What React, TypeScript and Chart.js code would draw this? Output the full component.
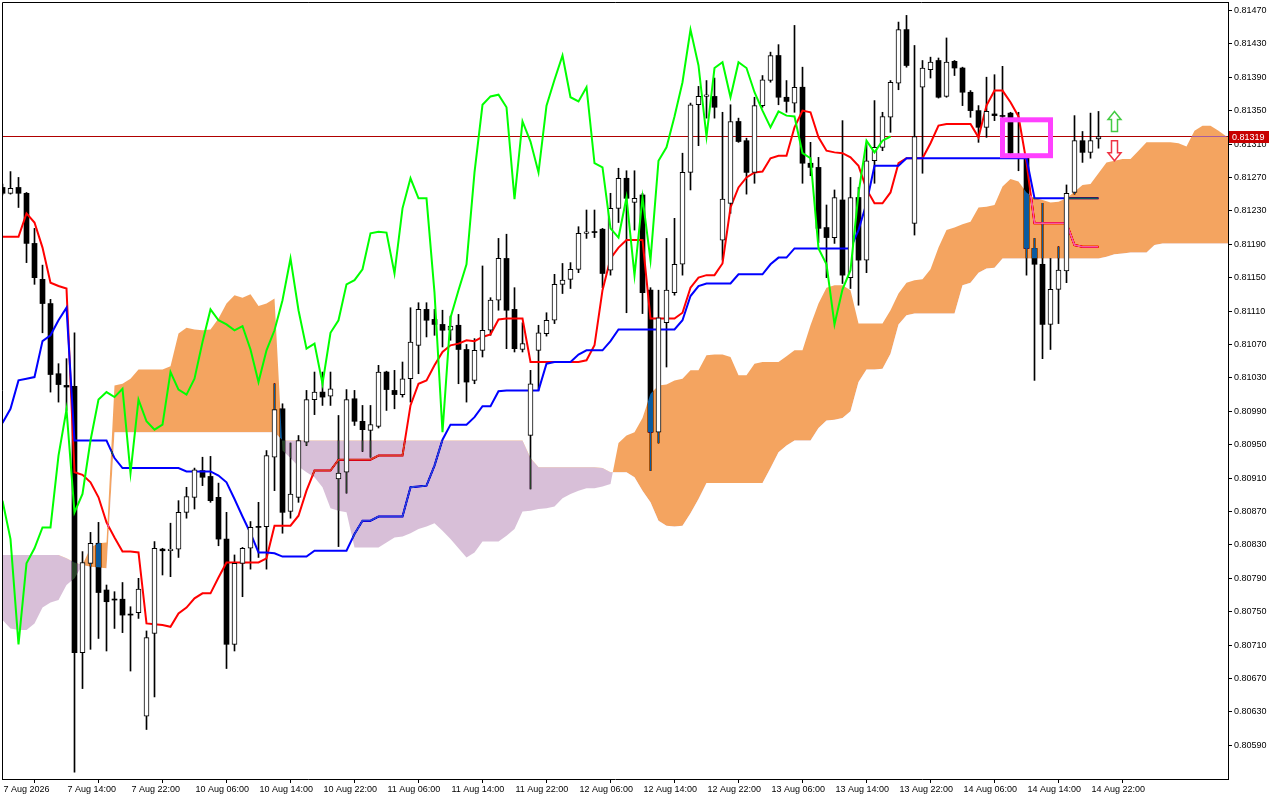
import { useEffect, useRef } from 'react'
import { Chart, registerables } from 'chart.js'

// Lets a dataset carry a canvas blend mode. The cloud is painted in "difference"
// with inverted colours: SandyBrown / Thistle on white, blue / dark where it
// covers black candles, pink where it covers the red line (as the MT4 shot does).
const blendPlugin = {
  id: 'blendMode',
  beforeDraw(chart) {
    const { ctx, width, height } = chart
    ctx.save()
    ctx.fillStyle = '#ffffff'
    ctx.fillRect(0, 0, width, height)
    ctx.restore()
  },
  beforeDatasetDraw(chart, args) {
    const ds = chart.data.datasets[args.index]
    if (ds && ds.blend) {
      chart.ctx.save()
      chart.ctx.globalCompositeOperation = ds.blend
    }
  },
  afterDatasetDraw(chart, args) {
    const ds = chart.data.datasets[args.index]
    if (ds && ds.blend) chart.ctx.restore()
  },
}

// registered ahead of the filler so the blend is set when the cloud fill is drawn
Chart.register(blendPlugin, ...registerables)

// H1 bars, 7 Aug 06:00 .. 14 Aug 23:00
const opens = [
  0.81258, 0.81251, 0.81258, 0.81251, 0.81191, 0.81148, 0.81119, 0.81035, 0.81021, 0.81020,
  0.80701, 0.80808, 0.80832, 0.80776, 0.80765, 0.80765, 0.80747, 0.80749, 0.80625, 0.80724,
  0.80825, 0.80823, 0.80825, 0.80869, 0.80887, 0.80919, 0.80912, 0.80887, 0.80837, 0.80711,
  0.80808, 0.80826, 0.80852, 0.80852, 0.80935, 0.80993, 0.80870, 0.80887, 0.80953, 0.81004,
  0.81013, 0.81008, 0.80909, 0.80917, 0.81005, 0.80978, 0.80967, 0.80972, 0.81037, 0.81015,
  0.81010, 0.81029, 0.81069, 0.81112, 0.81100, 0.81094, 0.81087, 0.81093, 0.81064, 0.81027,
  0.81063, 0.81087, 0.81123, 0.81173, 0.81112, 0.81064, 0.80961, 0.81063, 0.81083, 0.81099,
  0.81142, 0.81148, 0.81160, 0.81203, 0.81205, 0.81208, 0.81159, 0.81233, 0.81269, 0.81240,
  0.81249, 0.81135, 0.80965, 0.81096, 0.81132, 0.81166, 0.81276, 0.81357, 0.81367, 0.81367,
  0.81195, 0.81239, 0.81337, 0.81314, 0.81276, 0.81356, 0.81386, 0.81416, 0.81366, 0.81359,
  0.81378, 0.81287, 0.81282, 0.81210, 0.81198, 0.81243, 0.81150, 0.81246, 0.81171, 0.81290,
  0.81306, 0.81342, 0.81383, 0.81447, 0.81215, 0.81378, 0.81399, 0.81410, 0.81367, 0.81409,
  0.81401, 0.81372, 0.81350, 0.81330, 0.81346, 0.81344, 0.81347, 0.81294, 0.81293, 0.81185,
  0.81166, 0.81094, 0.81136, 0.81158, 0.81252, 0.81314, 0.81300, 0.81316,
]
const highs = [
  0.81262, 0.81277, 0.81270, 0.81252, 0.81209, 0.81165, 0.81124, 0.81047, 0.81053, 0.81084,
  0.80822, 0.80845, 0.80857, 0.80782, 0.80774, 0.80785, 0.80756, 0.80790, 0.80727, 0.80834,
  0.80826, 0.80856, 0.80883, 0.80899, 0.80922, 0.80935, 0.80936, 0.80904, 0.80869, 0.80818,
  0.80827, 0.80858, 0.80881, 0.80943, 0.81023, 0.80999, 0.80952, 0.80961, 0.81015, 0.81037,
  0.81037, 0.81037, 0.80985, 0.81016, 0.81015, 0.80997, 0.80997, 0.81045, 0.81038, 0.81039,
  0.81049, 0.81114, 0.81120, 0.81120, 0.81112, 0.81111, 0.81104, 0.81106, 0.81070, 0.81077,
  0.81164, 0.81126, 0.81197, 0.81202, 0.81138, 0.81096, 0.81039, 0.81093, 0.81108, 0.81154,
  0.81167, 0.81168, 0.81211, 0.81231, 0.81231, 0.81209, 0.81251, 0.81281, 0.81278, 0.81278,
  0.81251, 0.81138, 0.81135, 0.81197, 0.81221, 0.81299, 0.81359, 0.81379, 0.81386, 0.81389,
  0.81348, 0.81357, 0.81341, 0.81317, 0.81366, 0.81392, 0.81420, 0.81429, 0.81386, 0.81452,
  0.81402, 0.81312, 0.81294, 0.81237, 0.81255, 0.81338, 0.81270, 0.81258, 0.81311, 0.81362,
  0.81348, 0.81386, 0.81456, 0.81464, 0.81428, 0.81410, 0.81414, 0.81413, 0.81437, 0.81410,
  0.81402, 0.81374, 0.81356, 0.81390, 0.81393, 0.81403, 0.81348, 0.81348, 0.81296, 0.81197,
  0.81239, 0.81173, 0.81187, 0.81261, 0.81344, 0.81325, 0.81347, 0.81349,
]
const lows = [
  0.81249, 0.81250, 0.81234, 0.81168, 0.81142, 0.81084, 0.81013, 0.81001, 0.80991, 0.80558,
  0.80658, 0.80705, 0.80718, 0.80703, 0.80730, 0.80725, 0.80679, 0.80742, 0.80609, 0.80648,
  0.80794, 0.80792, 0.80815, 0.80862, 0.80873, 0.80901, 0.80881, 0.80829, 0.80682, 0.80703,
  0.80768, 0.80801, 0.80815, 0.80801, 0.80895, 0.80844, 0.80862, 0.80881, 0.80949, 0.80986,
  0.80997, 0.80997, 0.80828, 0.80892, 0.80973, 0.80942, 0.80935, 0.80970, 0.80991, 0.80993,
  0.81007, 0.81001, 0.81035, 0.81079, 0.81081, 0.81067, 0.81075, 0.81023, 0.81001, 0.81023,
  0.81055, 0.81081, 0.81111, 0.81065, 0.81061, 0.81061, 0.80897, 0.81015, 0.81080, 0.81095,
  0.81131, 0.81137, 0.81156, 0.81197, 0.81198, 0.81138, 0.81153, 0.81216, 0.81108, 0.81207,
  0.81107, 0.80919, 0.80952, 0.81043, 0.81129, 0.81153, 0.81255, 0.81308, 0.81341, 0.81341,
  0.81171, 0.81227, 0.81312, 0.81250, 0.81263, 0.81354, 0.81384, 0.81357, 0.81348, 0.81348,
  0.81263, 0.81272, 0.81192, 0.81150, 0.81191, 0.81143, 0.81137, 0.81117, 0.81156, 0.81263,
  0.81302, 0.81324, 0.81375, 0.81402, 0.81201, 0.81275, 0.81389, 0.81365, 0.81366, 0.81392,
  0.81356, 0.81342, 0.81312, 0.81318, 0.81338, 0.81332, 0.81293, 0.81278, 0.81153, 0.81027,
  0.81053, 0.81064, 0.81095, 0.81144, 0.81250, 0.81288, 0.81293, 0.81305,
]
const closes = [
  0.81251, 0.81257, 0.81251, 0.81191, 0.81150, 0.81119, 0.81034, 0.81022, 0.81019, 0.80701,
  0.80809, 0.80832, 0.80773, 0.80762, 0.80764, 0.80746, 0.80746, 0.80777, 0.80719, 0.80826,
  0.80823, 0.80825, 0.80869, 0.80888, 0.80920, 0.80911, 0.80883, 0.80837, 0.80711, 0.80808,
  0.80826, 0.80851, 0.80851, 0.80937, 0.80992, 0.80869, 0.80891, 0.80955, 0.81004, 0.81013,
  0.81007, 0.81017, 0.80916, 0.81004, 0.80978, 0.80968, 0.80974, 0.81037, 0.81016, 0.81010,
  0.81029, 0.81073, 0.81112, 0.81099, 0.81094, 0.81087, 0.81092, 0.81064, 0.81025, 0.81063,
  0.81087, 0.81123, 0.81173, 0.81111, 0.81065, 0.81071, 0.81023, 0.81084, 0.81099, 0.81142,
  0.81147, 0.81160, 0.81203, 0.81205, 0.81204, 0.81155, 0.81233, 0.81269, 0.81245, 0.81245,
  0.81132, 0.80965, 0.81102, 0.81135, 0.81166, 0.81276, 0.81357, 0.81367, 0.81369, 0.81354,
  0.81244, 0.81337, 0.81313, 0.81276, 0.81356, 0.81387, 0.81416, 0.81366, 0.81361, 0.81378,
  0.81287, 0.81282, 0.81209, 0.81198, 0.81246, 0.81153, 0.81246, 0.81171, 0.81290, 0.81306,
  0.81343, 0.81384, 0.81447, 0.81404, 0.81319, 0.81401, 0.81408, 0.81366, 0.81408, 0.81401,
  0.81372, 0.81350, 0.81330, 0.81349, 0.81344, 0.81343, 0.81299, 0.81293, 0.81185, 0.81166,
  0.81094, 0.81136, 0.81159, 0.81251, 0.81314, 0.81300, 0.81314, 0.81319,
]

// Ichimoku lines
const tenkan = [
  0.81199, 0.81199, 0.81199, 0.81227, 0.81216, 0.81186, 0.81144, 0.81140, 0.81137, 0.80917,
  0.80914, 0.80905, 0.80887, 0.80857, 0.80839, 0.80822, 0.80822, 0.80821, 0.80736, 0.80735,
  0.80734, 0.80732, 0.80748, 0.80755, 0.80766, 0.80772, 0.80772, 0.80791, 0.80809, 0.80809,
  0.80809, 0.80809, 0.80809, 0.80814, 0.80853, 0.80853, 0.80853, 0.80865, 0.80895, 0.80919,
  0.80919, 0.80919, 0.80932, 0.80932, 0.80932, 0.80932, 0.80932, 0.80937, 0.80937, 0.80937,
  0.80937, 0.80997, 0.81023, 0.81027, 0.81045, 0.81061, 0.81069, 0.81071, 0.81075, 0.81074,
  0.81079, 0.81082, 0.81100, 0.81101, 0.81101, 0.81101, 0.81049, 0.81049, 0.81049, 0.81049,
  0.81049, 0.81049, 0.81049, 0.81051, 0.81069, 0.81135, 0.81173, 0.81186, 0.81195, 0.81195,
  0.81195, 0.81101, 0.81101, 0.81101, 0.81101, 0.81108, 0.81138, 0.81150, 0.81153, 0.81153,
  0.81167, 0.81234, 0.81258, 0.81270, 0.81276, 0.81277, 0.81293, 0.81296, 0.81296, 0.81330,
  0.81350, 0.81348, 0.81318, 0.81302, 0.81300, 0.81299, 0.81294, 0.81284, 0.81256, 0.81239,
  0.81239, 0.81252, 0.81287, 0.81293, 0.81293, 0.81293, 0.81311, 0.81332, 0.81334, 0.81334,
  0.81334, 0.81334, 0.81318, 0.81356, 0.81374, 0.81374, 0.81360, 0.81343, 0.81288, 0.81215,
  0.81215, 0.81215, 0.81215, 0.81215, 0.81189, 0.81187, 0.81187, 0.81187,
]
const kijun = [
  0.80976, 0.80993, 0.81027, 0.81029, 0.81031, 0.81074, 0.81081, 0.81099, 0.81114, 0.80955,
  0.80955, 0.80955, 0.80955, 0.80955, 0.80934, 0.80922, 0.80922, 0.80922, 0.80922, 0.80922,
  0.80922, 0.80922, 0.80922, 0.80918, 0.80918, 0.80918, 0.80918, 0.80913, 0.80905, 0.80885,
  0.80864, 0.80844, 0.80821, 0.80821, 0.80820, 0.80816, 0.80816, 0.80816, 0.80816, 0.80823,
  0.80823, 0.80823, 0.80823, 0.80823, 0.80843, 0.80859, 0.80859, 0.80864, 0.80864, 0.80864,
  0.80864, 0.80899, 0.80900, 0.80901, 0.80925, 0.80956, 0.80974, 0.80974, 0.80974, 0.80983,
  0.80996, 0.80996, 0.81014, 0.81015, 0.81015, 0.81015, 0.81015, 0.81015, 0.81047, 0.81049,
  0.81049, 0.81049, 0.81058, 0.81063, 0.81063, 0.81063, 0.81074, 0.81088, 0.81088, 0.81088,
  0.81088, 0.81088, 0.81088, 0.81088, 0.81088, 0.81099, 0.81128, 0.81140, 0.81143, 0.81143,
  0.81143, 0.81143, 0.81154, 0.81154, 0.81154, 0.81154, 0.81166, 0.81174, 0.81174, 0.81185,
  0.81185, 0.81185, 0.81185, 0.81185, 0.81185, 0.81185, 0.81185, 0.81207, 0.81239, 0.81284,
  0.81284, 0.81284, 0.81284, 0.81293, 0.81293, 0.81293, 0.81293, 0.81293, 0.81293, 0.81293,
  0.81293, 0.81293, 0.81293, 0.81293, 0.81293, 0.81293, 0.81293, 0.81293, 0.81293, 0.81245,
  0.81245, 0.81245, 0.81245, 0.81245, 0.81245, 0.81245, 0.81245, 0.81245,
]
// senkou spans, already shifted 26 bars forward (bar 0 .. 154)
const spanA = [
  0.80740, 0.80730, 0.80728, 0.80728, 0.80736, 0.80755, 0.80761, 0.80764, 0.80782, 0.80790,
  0.80806, 0.80827, 0.80832, 0.80833, 0.81021, 0.81023, 0.81029, 0.81040, 0.81040, 0.81040,
  0.81040, 0.81044, 0.81083, 0.81090, 0.81088, 0.81087, 0.81088, 0.81101, 0.81119, 0.81129,
  0.81126, 0.81130, 0.81116, 0.81119, 0.81125, 0.80943, 0.80934, 0.80924, 0.80917, 0.80911,
  0.80899, 0.80874, 0.80871, 0.80869, 0.80827, 0.80827, 0.80827, 0.80827, 0.80833, 0.80839,
  0.80840, 0.80844, 0.80849, 0.80852, 0.80856, 0.80847, 0.80837, 0.80826, 0.80815, 0.80821,
  0.80834, 0.80834, 0.80834, 0.80841, 0.80849, 0.80870, 0.80871, 0.80873, 0.80874, 0.80876,
  0.80886, 0.80891, 0.80895, 0.80898, 0.80898, 0.80900, 0.80903, 0.80952, 0.80961, 0.80965,
  0.80982, 0.81011, 0.81021, 0.81022, 0.81027, 0.81029, 0.81039, 0.81039, 0.81057, 0.81058,
  0.81058, 0.81055, 0.81033, 0.81033, 0.81047, 0.81049, 0.81049, 0.81049, 0.81056, 0.81063,
  0.81063, 0.81093, 0.81119, 0.81138, 0.81141, 0.81141, 0.81135, 0.81095, 0.81095, 0.81095,
  0.81095, 0.81111, 0.81131, 0.81144, 0.81147, 0.81148, 0.81160, 0.81186, 0.81207, 0.81210,
  0.81214, 0.81217, 0.81234, 0.81235, 0.81237, 0.81259, 0.81268, 0.81265, 0.81252, 0.81245,
  0.81243, 0.81240, 0.81241, 0.81245, 0.81253, 0.81261, 0.81262, 0.81275, 0.81288, 0.81290,
  0.81292, 0.81292, 0.81302, 0.81312, 0.81312, 0.81312, 0.81312, 0.81311, 0.81307, 0.81326,
  0.81332, 0.81332, 0.81326, 0.81319, 0.81314,
]
const spanB = [
  0.80818, 0.80818, 0.80818, 0.80818, 0.80818, 0.80818, 0.80818, 0.80818, 0.80814, 0.80809,
  0.80806, 0.80804, 0.80803, 0.80802, 0.80965, 0.80965, 0.80965, 0.80965, 0.80965, 0.80965,
  0.80965, 0.80965, 0.80965, 0.80965, 0.80965, 0.80965, 0.80965, 0.80965, 0.80965, 0.80965,
  0.80965, 0.80965, 0.80965, 0.80965, 0.80965, 0.80955, 0.80955, 0.80955, 0.80955, 0.80955,
  0.80955, 0.80955, 0.80955, 0.80955, 0.80955, 0.80955, 0.80955, 0.80955, 0.80955, 0.80955,
  0.80955, 0.80955, 0.80955, 0.80955, 0.80955, 0.80955, 0.80955, 0.80955, 0.80955, 0.80955,
  0.80955, 0.80955, 0.80955, 0.80955, 0.80955, 0.80955, 0.80934, 0.80923, 0.80923, 0.80923,
  0.80923, 0.80923, 0.80923, 0.80923, 0.80923, 0.80922, 0.80917, 0.80917, 0.80917, 0.80911,
  0.80895, 0.80881, 0.80859, 0.80853, 0.80852, 0.80853, 0.80868, 0.80885, 0.80904, 0.80904,
  0.80904, 0.80904, 0.80904, 0.80904, 0.80904, 0.80904, 0.80922, 0.80941, 0.80949, 0.80955,
  0.80955, 0.80955, 0.80970, 0.80979, 0.80980, 0.80982, 0.80990, 0.81025, 0.81040, 0.81040,
  0.81041, 0.81059, 0.81094, 0.81105, 0.81107, 0.81107, 0.81107, 0.81107, 0.81107, 0.81107,
  0.81141, 0.81144, 0.81156, 0.81161, 0.81162, 0.81173, 0.81173, 0.81173, 0.81173, 0.81173,
  0.81173, 0.81173, 0.81173, 0.81173, 0.81173, 0.81173, 0.81173, 0.81173, 0.81175, 0.81178,
  0.81179, 0.81180, 0.81180, 0.81180, 0.81189, 0.81191, 0.81191, 0.81191, 0.81191, 0.81191,
  0.81191, 0.81191, 0.81191, 0.81191, 0.81191,
]

const timeLabels = [
  '7 Aug 2026', '7 Aug 14:00', '7 Aug 22:00', '10 Aug 06:00', '10 Aug 14:00', '10 Aug 22:00',
  '11 Aug 06:00', '11 Aug 14:00', '11 Aug 22:00', '12 Aug 06:00', '12 Aug 14:00', '12 Aug 22:00',
  '13 Aug 06:00', '13 Aug 14:00', '13 Aug 22:00', '14 Aug 06:00', '14 Aug 14:00', '14 Aug 22:00',
]
const timeTickBars = [0, 8, 16, 24, 32, 40, 48, 56, 64, 72, 80, 88, 96, 104, 112, 120, 128, 136]
const priceTicks = [
  0.8059, 0.8063, 0.8067, 0.8071, 0.8075, 0.8079, 0.8083, 0.8087, 0.8091, 0.8095, 0.8099, 0.8103,
  0.8107, 0.8111, 0.8115, 0.8119, 0.8123, 0.8127, 0.8131, 0.8135, 0.8139, 0.8143, 0.8147,
]

const currentPrice = 0.81319
const boxBars = [125, 131]
const boxPrices = [0.81296, 0.81339]
const arrowBar = 139
const upArrowPrice = 0.81337
const downArrowPrice = 0.81302

// visible window: 8 px per bar, price range of the screenshot
const X_MIN = -0.0625
const X_MAX = 153.1875
const Y_MIN = 0.8054974
const Y_MAX = 0.8148004

const axisFont = { family: "'Liberation Sans', Arial, sans-serif", size: 9 }

function drawArrow(ctx, cx, cy, dir, color) {
  // hollow block arrow, dir -1 points up, 1 points down
  const pts = [[0, -10], [6.5, -2], [3, -2], [3, 10], [-3, 10], [-3, -2], [-6.5, -2]]
  ctx.beginPath()
  pts.forEach(([px, py], k) => {
    const X = cx + px
    const Y = cy - py * dir
    if (k === 0) ctx.moveTo(X, Y)
    else ctx.lineTo(X, Y)
  })
  ctx.closePath()
  ctx.strokeStyle = color
  ctx.lineWidth = 1.5
  ctx.stroke()
}

const overlayPlugin = {
  id: 'overlay',
  afterDatasetsDraw(chart) {
    const { ctx, chartArea: a, scales } = chart
    const xs = scales.x
    const ys = scales.y
    ctx.save()

    // top and left edges of the frame
    ctx.strokeStyle = '#000'
    ctx.lineWidth = 1
    ctx.beginPath()
    ctx.moveTo(a.left + 0.5, a.bottom)
    ctx.lineTo(a.left + 0.5, a.top + 0.5)
    ctx.lineTo(a.right, a.top + 0.5)
    ctx.stroke()

    // magenta rectangle object
    const x0 = xs.getPixelForValue(boxBars[0])
    const x1 = xs.getPixelForValue(boxBars[1])
    const y0 = ys.getPixelForValue(boxPrices[1])
    const y1 = ys.getPixelForValue(boxPrices[0])
    ctx.strokeStyle = '#FF40FF'
    ctx.lineWidth = 5
    ctx.strokeRect(x0, y0, x1 - x0, y1 - y0)

    const ax = xs.getPixelForValue(arrowBar)
    drawArrow(ctx, ax, ys.getPixelForValue(upArrowPrice), -1, '#44CC44')
    drawArrow(ctx, ax, ys.getPixelForValue(downArrowPrice), 1, '#EE3344')

    // current price tag on the axis
    const py = Math.round(ys.getPixelForValue(currentPrice))
    ctx.fillStyle = '#C80000'
    ctx.fillRect(a.right + 1, py - 6, 40, 12)
    ctx.fillStyle = '#ffffff'
    ctx.font = `${axisFont.size}px ${axisFont.family}`
    ctx.textAlign = 'left'
    ctx.textBaseline = 'middle'
    ctx.fillText(currentPrice.toFixed(5), a.right + 4, py + 0.5)
    ctx.restore()
  },
}

export default function App() {
  const canvasRef = useRef(null)
  const chartRef = useRef(null)

  useEffect(() => {
    document.body.style.margin = '0'
    if (!canvasRef.current) return

    const bars = closes.map((_, i) => i)
    const wickData = bars.map((i) => ({ x: i, y: [lows[i], highs[i]] }))
    const bullData = bars.filter((i) => closes[i] >= opens[i]).map((i) => ({ x: i, y: [opens[i], closes[i]] }))
    const bearData = bars.filter((i) => closes[i] < opens[i]).map((i) => ({ x: i, y: [opens[i], closes[i]] }))
    const asLine = (arr) => arr.map((v, i) => ({ x: i, y: v }))
    // chikou span: close plotted 26 bars back
    const chikou = closes.slice(26).map((v, i) => ({ x: i, y: v }))

    const lineBase = { type: 'line', pointRadius: 0, tension: 0, fill: false }
    const SPAN_B_INDEX = 7

    chartRef.current = new Chart(canvasRef.current, {
      type: 'line',
      data: {
        datasets: [
          { ...lineBase, label: 'price', data: [{ x: -1, y: currentPrice }, { x: 160, y: currentPrice }], borderColor: '#B00000', borderWidth: 1, order: 10 },
          { type: 'bar', label: 'wicks', data: wickData, backgroundColor: '#000', barThickness: 1, grouped: false, order: 9 },
          { type: 'bar', label: 'bear', data: bearData, backgroundColor: '#000', borderWidth: 0, barThickness: 5, minBarLength: 1, grouped: false, order: 8 },
          { ...lineBase, label: 'Tenkan-sen', data: asLine(tenkan), borderColor: '#FF0000', borderWidth: 2, order: 7 },
          { ...lineBase, label: 'Kijun-sen', data: asLine(kijun), borderColor: '#0000FF', borderWidth: 2, order: 6 },
          {
            ...lineBase, label: 'Senkou A', data: asLine(spanA), borderColor: 'transparent', borderWidth: 0,
            fill: { target: SPAN_B_INDEX, above: '#0B5B9F', below: '#274027' }, blend: 'difference', order: 5,
          },
          { type: 'bar', label: 'bull', data: bullData, backgroundColor: '#ffffff', borderColor: '#000', borderWidth: 1, borderSkipped: false, barThickness: 5, minBarLength: 1, grouped: false, order: 3 },
          { ...lineBase, label: 'Senkou B', data: asLine(spanB), borderColor: 'transparent', borderWidth: 0, order: 4 },
          { ...lineBase, label: 'Chikou', data: chikou, borderColor: '#00FF00', borderWidth: 2, order: 2 },
        ],
      },
      options: {
        animation: false,
        responsive: true,
        maintainAspectRatio: false,
        devicePixelRatio: 1,
        events: [],
        layout: { padding: { top: 2, left: 2, right: 0, bottom: 0 } },
        plugins: { legend: { display: false }, tooltip: { enabled: false } },
        scales: {
          x: {
            type: 'linear',
            position: 'bottom',
            min: X_MIN,
            max: X_MAX,
            offset: false,
            grid: { drawOnChartArea: false, drawTicks: true, tickLength: 4, color: '#000' },
            border: { display: true, color: '#000' },
            afterBuildTicks: (s) => { s.ticks = timeTickBars.map((v) => ({ value: v })) },
            afterFit: (s) => { s.height = 21; s.paddingLeft = 0; s.paddingRight = 0 },
            ticks: {
              autoSkip: false, maxRotation: 0, minRotation: 0, align: 'start', labelOffset: 1, padding: 1,
              color: '#000', font: axisFont,
              callback: (_v, i) => timeLabels[i],
            },
          },
          y: {
            type: 'linear',
            position: 'right',
            min: Y_MIN,
            max: Y_MAX,
            grid: { drawOnChartArea: false, drawTicks: true, tickLength: 4, color: '#000' },
            border: { display: true, color: '#000' },
            afterBuildTicks: (s) => { s.ticks = priceTicks.map((v) => ({ value: v })) },
            afterFit: (s) => { s.width = 52; s.paddingTop = 0; s.paddingBottom = 0 },
            ticks: { padding: 2, color: '#000', font: axisFont, callback: (v) => Number(v).toFixed(5) },
          },
        },
      },
      plugins: [overlayPlugin],
    })

    return () => {
      if (chartRef.current) chartRef.current.destroy()
    }
  }, [])

  return (
    <div style={{ width: 1280, height: 800, position: 'relative' }}>
      <canvas ref={canvasRef} />
    </div>
  )
}
